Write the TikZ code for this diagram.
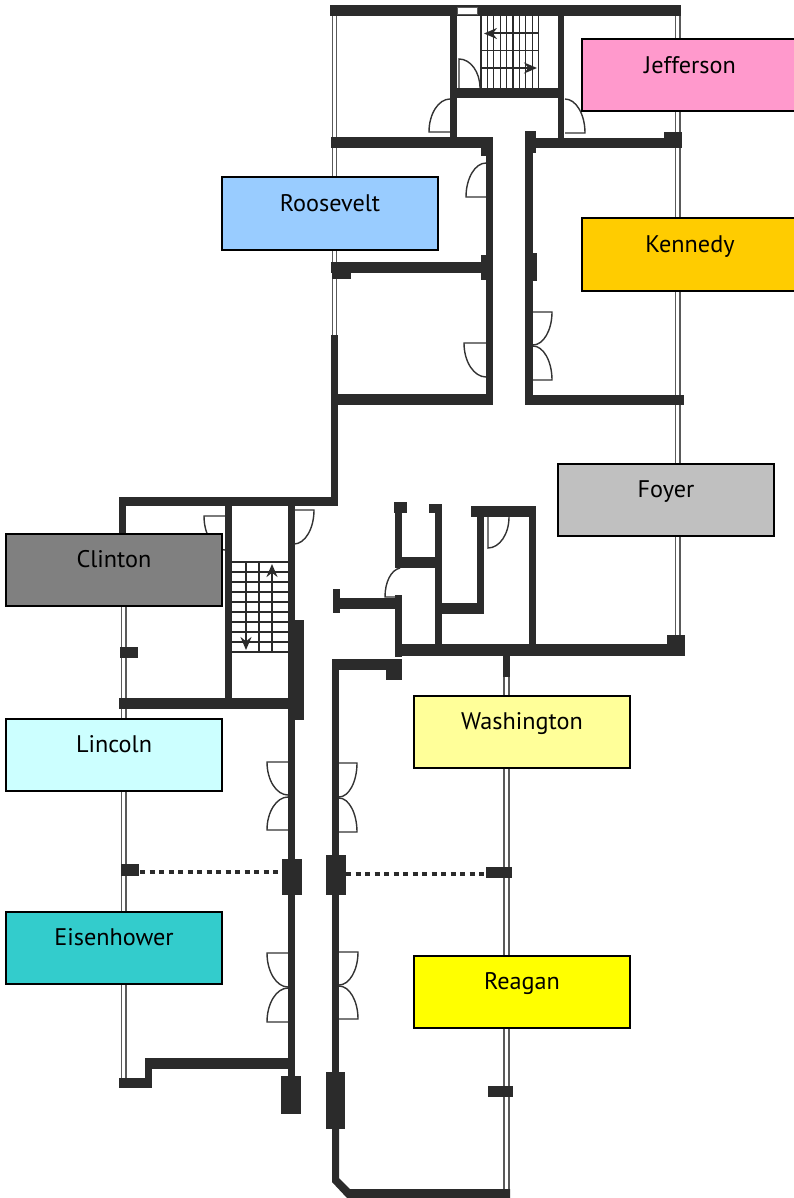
\documentclass[tikz,border=0pt]{standalone}
\usepackage{fontspec}
\setmainfont[FakeStretch=1.01]{PT Sans}
\usetikzlibrary{calc,arrows.meta}
\definecolor{wallc}{HTML}{2B2B2B}
\definecolor{glassc}{HTML}{5A5A5A}
\newcommand{\Wl}[4]{\fill[wallc] (#1,#2) rectangle (#3,#4);}
\newcommand{\Glass}[4]{\draw[glassc,line width=1.3pt] (#1,#2) -- (#1,#4) (#3,#2) -- (#3,#4);}
\newcommand{\DoorH}[4]{\draw[doorline] (#1,#2) -- (#3,#2) .. controls ($(#3,#2)!.55!(#3,#4)$) and ($(#1,#4)!.55!(#3,#4)$) .. (#1,#4);}
\newcommand{\DoorV}[4]{\draw[doorline] (#1,#2) -- (#1,#4) .. controls ($(#1,#4)!.55!(#3,#4)$) and ($(#3,#2)!.55!(#3,#4)$) .. (#3,#2);}
\tikzset{
  doorline/.style={draw=black!80,line width=1.4pt},
  stairline/.style={draw=wallc,line width=1.2pt},
  stairarrow/.style={draw=wallc,line width=2pt,-{Stealth[length=13pt,width=11pt]}},
  roomdots/.style={draw=wallc,line width=3.5pt,dash pattern=on 5pt off 4.5pt},
  room/.style={draw=black,line width=2pt,minimum width=216pt,minimum height=72pt,inner sep=0pt,
    anchor=north west,text height=34pt,text depth=38pt,font=\fontsize{24}{28}\selectfont,text=black}
}
\begin{document}
\begin{tikzpicture}[x=1pt,y=-1pt]
\useasboundingbox (0,0) rectangle (794,1198);
% glazing
\Glass{332.5}{16}{336.5}{336}
\Glass{675.6}{16}{680}{636}
\Glass{121.5}{600}{126}{1079}
\Glass{504}{656}{509}{1190}
% upper wing
\Wl{330}{5}{681}{16}
\fill[white] (457,7) rectangle (477,14);
\draw[glassc,line width=.6pt] (457,7) rectangle (477,14);
\Wl{450}{16}{457}{140}
\Wl{450}{88}{561}{98}
\Wl{558}{16}{564}{142}
\Wl{331}{137}{493}{148}
\Wl{525}{138}{681}{148}
\Wl{525}{131}{536}{153}
\Wl{664}{132}{682}{148}
\Wl{486}{137}{493}{405}
\Wl{481}{148}{493}{156}
\Wl{331}{262}{493}{273}
\Wl{332}{270}{351}{279}
\Wl{481}{255}{493}{280}
\Wl{525}{131}{533}{405}
\Wl{525}{253}{537}{281}
\Wl{331}{394}{493}{405}
\Wl{525}{395}{684}{405}
\Wl{331}{335}{338}{506}
% upper stairs
\foreach \sx in {481,487.4,...,540}{\draw[stairline] (\sx,16) -- (\sx,88);}
\foreach \sy in {50.5}{\draw[stairline] (481,\sy) -- (539,\sy);}
\draw[stairarrow] (539,33.5) -- (484,33.5);
\draw[stairarrow] (481,68) -- (537,68);
% west stair block
\Wl{119}{497}{338}{506}
\Wl{119}{497}{126}{540}
\Wl{120}{647}{138}{658}
\Wl{119}{698}{300}{709}
\Wl{225}{497}{232}{700}
\Wl{288}{497}{295}{1076}
\Wl{288}{620}{304}{720}
\foreach \sy in {562,572,...,652}{\draw[stairline] (232,\sy) -- (288,\sy);}
\draw[stairline] (259,562) -- (259,652);
\draw[stairarrow] (246,562) -- (246,650);
\draw[stairarrow] (272,652) -- (272,564);
% core
\Wl{395}{504}{402}{568}
\Wl{394}{502}{407}{513}
\Wl{435}{504}{442}{650}
\Wl{429}{504}{442}{513}
\Wl{395}{557}{442}{568}
\Wl{333}{589}{340}{613}
\Wl{333}{598}{402}{609}
\Wl{395}{595}{402}{657}
\Wl{402}{644}{685}{656}
\Wl{667}{635}{685}{656}
\Wl{332}{659}{402}{670}
\Wl{386}{667}{402}{680}
\Wl{442}{603}{484}{614}
\Wl{477}{506}{484}{614}
\Wl{471}{506}{536}{517}
\Wl{529}{506}{536}{650}
\Wl{503}{656}{510}{677}
% south corridor
\Wl{332}{659}{339}{1130}
\Wl{282}{859}{302}{895}
\Wl{326}{855}{346}{895}
\Wl{121}{864}{139}{876}
\Wl{486}{867}{512}{878}
\Wl{145}{1058}{295}{1069}
\Wl{145}{1058}{152}{1088}
\Wl{119}{1078}{152}{1088}
\Wl{281}{1076}{301}{1114}
\Wl{326}{1072}{345}{1129}
\Wl{488}{1086}{513}{1097}
\fill[wallc] (332,1129) -- (339,1129) -- (339,1178) -- (350,1189) -- (510,1189) -- (510,1198) -- (347,1198) -- (332,1182) -- cycle;
\draw[roomdots] (140,872) -- (282,872);
\draw[roomdots] (346,874) -- (486,874);
% doors
\DoorV{459}{88}{480}{59}
\DoorH{450}{132}{429}{99}
\DoorH{565}{133}{585}{99}
\DoorH{486}{197}{466}{163}
\DoorH{486}{343}{464}{377}
\DoorH{533}{312}{552}{345}
\DoorH{533}{380}{552}{346}
\DoorH{225}{516}{204}{550}
\DoorH{294}{510}{314}{544}
\DoorV{488}{517}{509}{548}
\draw[doorline] (395,597) -- (385,597) .. controls (385,582) and (391,570) .. (400,568);
\DoorH{288}{762}{267}{795}
\DoorH{288}{830}{267}{797}
\DoorH{339}{763}{357}{797}
\DoorH{339}{832}{357}{798}
\DoorH{288}{953}{267}{987}
\DoorH{288}{1022}{267}{988}
\DoorH{339}{952}{358}{985}
\DoorH{339}{1019}{358}{986}
% room labels
\node[room,fill={rgb,255:red,255;green,153;blue,204}] (jefferson) at (581,38.5) {Jefferson};
\node[room,fill={rgb,255:red,153;green,204;blue,255}] (roosevelt) at (221,176.5) {Roosevelt};
\node[room,fill={rgb,255:red,255;green,204;blue,0}] (kennedy) at (581,217.5) {Kennedy};
\node[room,fill={rgb,255:red,192;green,192;blue,192}] (foyer) at (557,462.5) {Foyer};
\node[room,fill={rgb,255:red,128;green,128;blue,128}] (clinton) at (5,532.5) {Clinton};
\node[room,fill={rgb,255:red,204;green,255;blue,255}] (lincoln) at (5,717.5) {Lincoln};
\node[room,fill={rgb,255:red,255;green,255;blue,153}] (washington) at (413,694.5) {Washington};
\node[room,fill={rgb,255:red,51;green,204;blue,204}] (eisenhower) at (5,910.5) {Eisenhower};
\node[room,fill={rgb,255:red,255;green,255;blue,0}] (reagan) at (413,954.5) {Reagan};
\end{tikzpicture}
\end{document}
